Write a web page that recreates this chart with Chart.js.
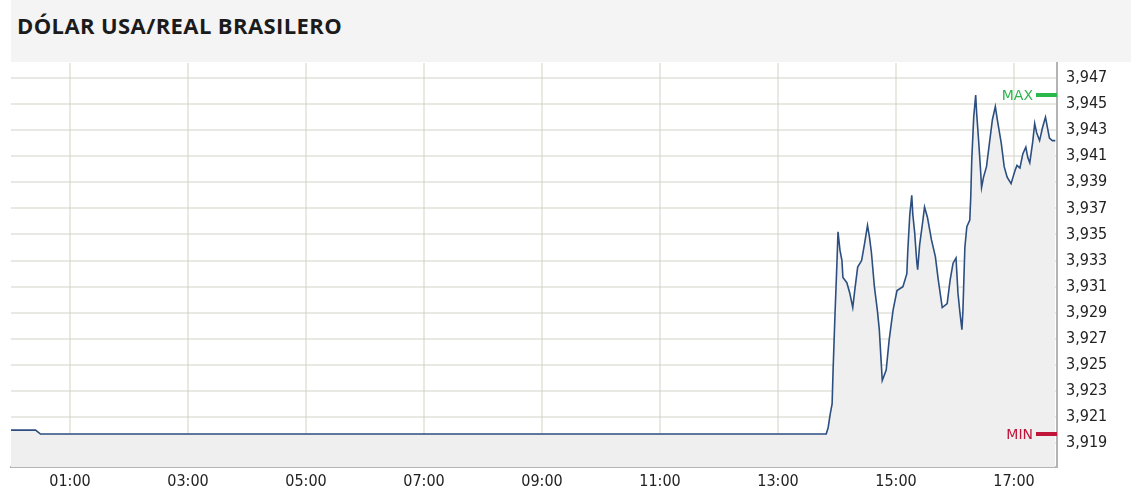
<!DOCTYPE html>
<html>
<head>
<meta charset="utf-8">
<script src="https://cdn.jsdelivr.net/npm/chart.js@4"></script>
<style>
  body { margin: 0; background: #fff; }
  .header {
    margin-left: 11px;
    height: 62px;
    background: #f4f4f4;
    box-sizing: border-box;
    padding: 10px 0 0 6px;
    font: bold 22px 'Open Sans', sans-serif;
    letter-spacing: 0.4px;
    color: #1b1b1b;
  }
  .wrap { position: relative; width: 1131px; height: 429px; }
</style>
</head>
<body>
<div class="header">DÓLAR USA/REAL BRASILERO</div>
<div class="wrap"><canvas id="chart"></canvas></div>
<script>
const times = ['00:00','00:25','00:30','13:49','13:51','13:53','13:55','13:56','13:58','14:00',
  '14:01','14:03','14:05','14:06','14:10','14:13','14:16','14:18','14:21','14:25',
  '14:28','14:31','14:33','14:35','14:38','14:41','14:43','14:45','14:46','14:50',
  '14:53','14:57','15:01','15:07','15:11','15:12','15:14','15:16','15:17','15:19',
  '15:21','15:22','15:24','15:27','15:29','15:32','15:36','15:40','15:43','15:47',
  '15:52','15:55','15:58','16:01','16:03','16:05','16:07','16:08','16:10','16:12',
  '16:15','16:16','16:17','16:19','16:21','16:22','16:24','16:26','16:27','16:29',
  '16:32','16:35','16:38','16:41','16:43','16:47','16:50','16:53','16:57','17:01',
  '17:03','17:06','17:09','17:12','17:14','17:16','17:19','17:21','17:23','17:26',
  '17:29','17:32','17:34','17:36','17:39','17:42']
const prices = [3.9200,3.9200,3.9197,3.9197,3.9202,3.9212,3.9220,3.9246,3.9290,3.9330,
  3.9352,3.9338,3.9330,3.9317,3.9313,3.9305,3.9294,3.9307,3.9325,3.9330,
  3.9343,3.9357,3.9348,3.9336,3.9310,3.9292,3.9277,3.9251,3.9238,3.9246,
  3.9269,3.9292,3.9307,3.9310,3.9320,3.9338,3.9365,3.9380,3.9366,3.9351,
  3.9330,3.9323,3.9342,3.9359,3.9371,3.9363,3.9346,3.9333,3.9315,3.9294,
  3.9297,3.9315,3.9328,3.9332,3.9305,3.9290,3.9277,3.9291,3.9340,3.9356,
  3.9361,3.9379,3.9407,3.9440,3.9457,3.9443,3.9422,3.9399,3.9386,3.9394,
  3.9402,3.9420,3.9438,3.9448,3.9438,3.9420,3.9402,3.9394,3.9389,3.9399,
  3.9403,3.9401,3.9412,3.9417,3.9409,3.9405,3.9421,3.9435,3.9428,3.9422,
  3.9432,3.9440,3.9432,3.9424,3.9422,3.9422]

const xTickHours = [1, 3, 5, 7, 9, 11, 13, 15, 17]
const yTicks = [3.919, 3.921, 3.923, 3.925, 3.927, 3.929, 3.931, 3.933, 3.935, 3.937,
  3.939, 3.941, 3.943, 3.945, 3.947]

const toMinutes = t => { const [h, m] = t.split(':').map(Number); return h * 60 + m }
const points = times.map((t, i) => ({ x: toMinutes(t), y: prices[i] }))
const pad2 = n => String(n).padStart(2, '0')

const tickFont = { family: "'DejaVu Sans Condensed', 'DejaVu Sans', sans-serif", size: 16 }
const gridColor = 'rgba(200,200,185,0.4)'

// MAX / MIN markers pinned to the right edge of the plot
const extremes = {
    id: 'extremes',
    afterDraw(chart) {
        const { ctx, chartArea, scales } = chart
        const marks = [
            { text: 'MAX', value: Math.max(...prices), color: '#2bb74a' },
            { text: 'MIN', value: Math.min(...prices), color: '#c01538' }
        ]
        ctx.save()
        ctx.font = "14px 'DejaVu Sans', sans-serif"
        ctx.textAlign = 'right'
        ctx.textBaseline = 'middle'
        marks.forEach(m => {
            const y = Math.round(scales.y.getPixelForValue(m.value))
            ctx.fillStyle = m.color
            ctx.fillRect(chartArea.right - 21, y - 2, 21, 4)
            ctx.fillText(m.text, chartArea.right - 24, y + 1)
        })
        ctx.restore()
    }
}

new Chart(document.getElementById('chart'), {
    type: 'line',
    data: {
        datasets: [{
            data: points,
            borderColor: '#2c4f80',
            borderWidth: 1.6,
            backgroundColor: '#efefef',
            fill: 'start',
            pointRadius: 0,
            tension: 0
        }]
    },
    options: {
        responsive: true,
        maintainAspectRatio: false,
        animation: false,
        layout: { padding: { left: 11, top: 1, right: 0, bottom: 0 } },
        plugins: { legend: { display: false }, tooltip: { enabled: false } },
        scales: {
            x: {
                type: 'linear',
                min: 0,
                max: 1063.7,
                z: 1,
                afterBuildTicks: s => { s.ticks = xTickHours.map(h => ({ value: h * 60 })) },
                afterFit: s => { s.height = 24; s.paddingLeft = 0; s.paddingRight = 0 },
                ticks: {
                    callback: v => pad2(Math.round(v / 60)) + ':00',
                    font: tickFont,
                    color: '#222',
                    padding: 5,
                    maxRotation: 0
                },
                grid: { color: gridColor, lineWidth: 2, drawTicks: false },
                border: { color: '#b4b4b4', width: 2 }
            },
            y: {
                position: 'right',
                min: 3.91717,
                max: 3.94815,
                z: 1,
                afterBuildTicks: s => { s.ticks = yTicks.map(v => ({ value: v })) },
                afterFit: s => { s.width = 74; s.paddingTop = 0; s.paddingBottom = 0 },
                ticks: {
                    callback: v => v.toFixed(3).replace('.', ','),
                    font: tickFont,
                    color: '#222',
                    padding: 9
                },
                grid: { color: gridColor, lineWidth: 2, drawTicks: false },
                border: { color: '#b4b4b4', width: 2 }
            }
        }
    },
    plugins: [extremes]
})
</script>
</body>
</html>
